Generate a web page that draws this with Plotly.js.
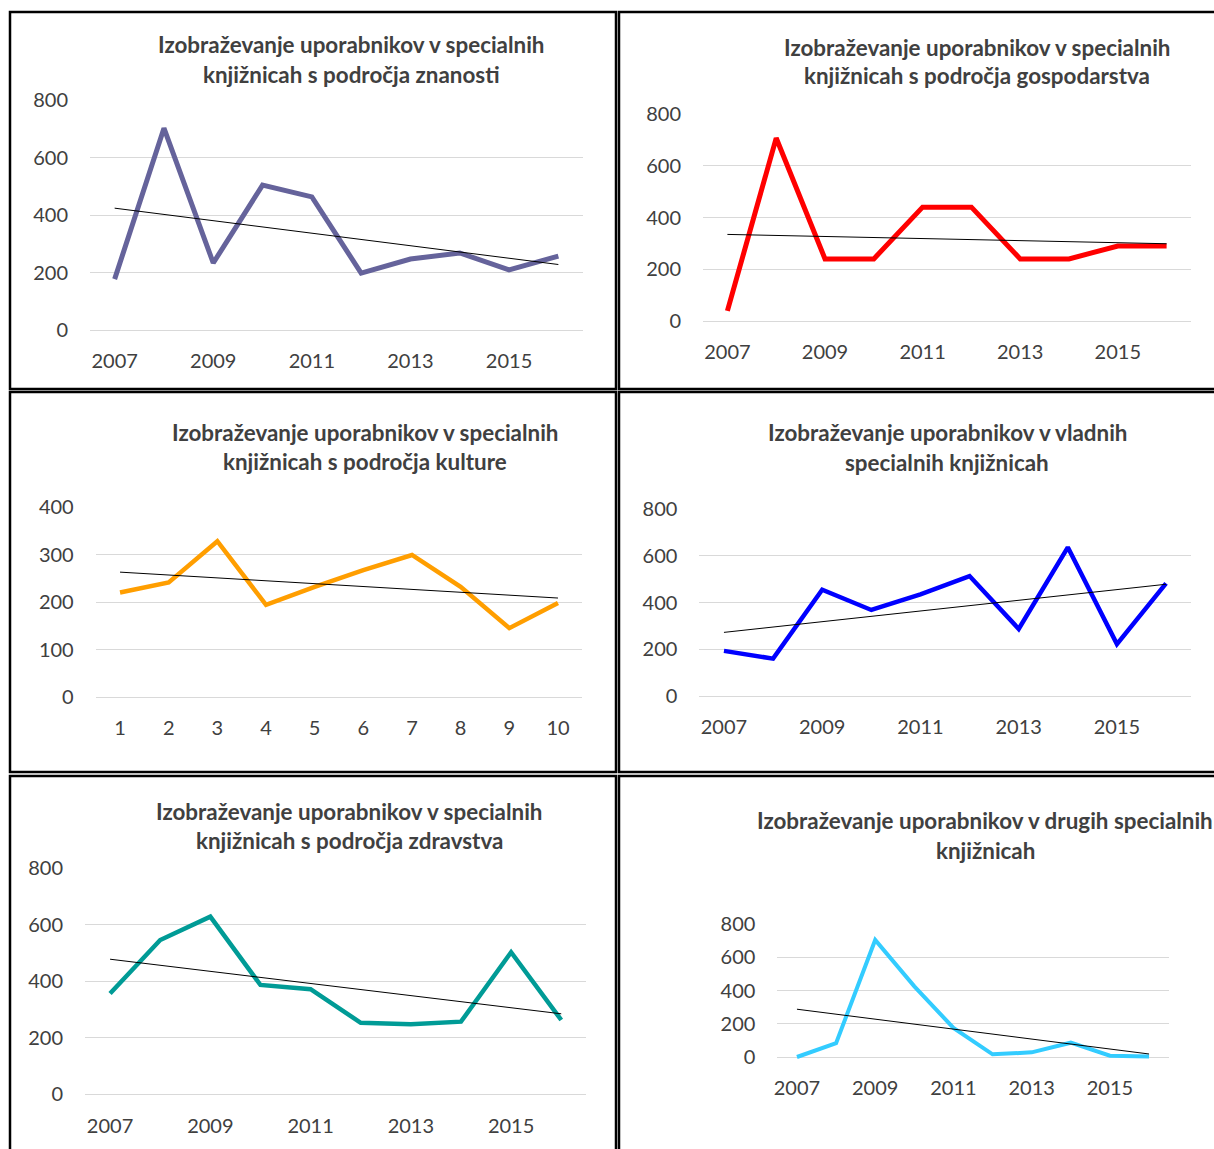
<!DOCTYPE html>
<html>
<head>
<meta charset="utf-8">
<script src="https://cdn.plot.ly/plotly-3.0.1.min.js"></script>
<style>
  html, body { margin: 0; padding: 0; background: #ffffff; }
  #chart { width: 1214px; height: 1149px; }
</style>
</head>
<body>
<div id="chart"></div>
<script>
// ---------------- DATA ----------------
const years = [2007, 2008, 2009, 2010, 2011, 2012, 2013, 2014, 2015, 2016];
const yearTicks = [2007, 2009, 2011, 2013, 2015];
const kulturaX = [1, 2, 3, 4, 5, 6, 7, 8, 9, 10];

const znanost      = [177, 702, 233, 504, 463, 198, 247, 268, 209, 257];
const gospodarstvo = [39, 707, 240, 240, 440, 440, 240, 240, 290, 290];
const kultura      = [220, 241, 328, 194, 232, 267, 299, 232, 145, 198];
const vladne       = [193, 160, 455, 368, 435, 513, 287, 636, 222, 482];
const zdravstvo    = [356, 545, 628, 386, 371, 252, 247, 256, 502, 262];
const druge        = [0, 83, 704, 425, 175, 16, 28, 86, 8, 3];

const titleZnanost      = ["Izobraževanje uporabnikov v specialnih", "knjižnicah s področja znanosti"];
const titleGospodarstvo = ["Izobraževanje uporabnikov v specialnih", "knjižnicah s področja gospodarstva"];
const titleKultura      = ["Izobraževanje uporabnikov v specialnih", "knjižnicah s področja kulture"];
const titleVladne       = ["Izobraževanje uporabnikov v vladnih", "specialnih knjižnicah"];
const titleZdravstvo    = ["Izobraževanje uporabnikov v specialnih", "knjižnicah s področja zdravstva"];
const titleDruge        = ["Izobraževanje uporabnikov v drugih specialnih", "knjižnicah"];

// ---------------- LAYOUT / STYLE ----------------
const W = 1214, H = 1149;
const FONT = "Lato, 'Open Sans', sans-serif";
const TEXT = "#404040";

function linFit(xs, ys) {
  const n = xs.length;
  const mx = xs.reduce((a, b) => a + b, 0) / n;
  const my = ys.reduce((a, b) => a + b, 0) / n;
  let sxy = 0, sxx = 0;
  for (let i = 0; i < n; i++) { sxy += (xs[i] - mx) * (ys[i] - my); sxx += (xs[i] - mx) ** 2; }
  const b = sxy / sxx, a = my - b * mx;
  return [a + b * xs[0], a + b * xs[n - 1]];
}

const panels = [
  { x: years, y: znanost, ticks: yearTicks, title: titleZnanost, color: "#65639B", width: 5,
    px: [90, 583], top: 100, zero: 330, ymax: 800, dtick: 200, tc: [351, 45, 74], box: [10, 12, 616, 389], xs: 17 },
  { x: years, y: gospodarstvo, ticks: yearTicks, title: titleGospodarstvo, color: "#FF0000", width: 5,
    px: [703, 1191], top: 114, zero: 321, ymax: 800, dtick: 200, tc: [977, 47, 76], box: [619, 12, 1220, 389], xs: 17 },
  { x: kulturaX, y: kultura, ticks: kulturaX, title: titleKultura, color: "#FF9E00", width: 4.5,
    px: [95.7, 582.3], top: 507, zero: 697, ymax: 400, dtick: 100, tc: [365, 432, 461], box: [10, 392, 616, 772], xs: 17 },
  { x: years, y: vladne, ticks: yearTicks, title: titleVladne, color: "#0000FF", width: 4.5,
    px: [699.4, 1190.6], top: 509, zero: 696, ymax: 800, dtick: 200, tc: [947, 432, 462], box: [619, 392, 1220, 772], xs: 17 },
  { x: years, y: zdravstvo, ticks: yearTicks, title: titleZdravstvo, color: "#009B96", width: 4.5,
    px: [85, 586.3], top: 868, zero: 1094, ymax: 800, dtick: 200, tc: [349, 811, 840], box: [10, 776, 616, 1160], xs: 18 },
  { x: years, y: druge, ticks: yearTicks, title: titleDruge, color: "#33CCFF", width: 4,
    px: [777.4, 1168.6], top: 924, zero: 1057, ymax: 800, dtick: 200, tc: [985, 820, 850], box: [619, 776, 1220, 1160], xs: 17 }
];

const traces = [];
const layout = {
  width: W, height: H,
  margin: { l: 0, r: 0, t: 0, b: 0 },
  paper_bgcolor: "#ffffff", plot_bgcolor: "rgba(0,0,0,0)",
  showlegend: false,
  font: { family: FONT, color: TEXT, size: 20 },
  annotations: [], shapes: []
};

const PAD = 6;
panels.forEach((p, i) => {
  const k = i === 0 ? "" : String(i + 1);
  const xa = "x" + k, ya = "y" + k;
  const upp = p.ymax / (p.zero - p.top);
  const x0 = p.x[0] - 0.5 * (p.x[1] - p.x[0]);
  const x1 = p.x[p.x.length - 1] + 0.5 * (p.x[1] - p.x[0]);

  traces.push({
    x: p.x, y: p.y, xaxis: xa, yaxis: ya, type: "scatter", mode: "lines",
    line: { color: p.color, width: p.width }, hoverinfo: "skip"
  });
  const fit = linFit(p.x, p.y);
  traces.push({
    x: [p.x[0], p.x[p.x.length - 1]], y: fit, xaxis: xa, yaxis: ya, type: "scatter", mode: "lines",
    line: { color: "#000000", width: 1 }, hoverinfo: "skip"
  });

  layout["xaxis" + k] = {
    domain: [p.px[0] / W, p.px[1] / W], anchor: ya, range: [x0, x1],
    tickmode: "array", tickvals: p.ticks, ticktext: p.ticks.map(String),
    showgrid: false, zeroline: false, showline: false, ticks: "",
    ticklabelstandoff: p.xs - PAD, tickfont: { family: FONT, size: 20, color: TEXT }, fixedrange: true
  };
  layout["yaxis" + k] = {
    domain: [1 - (p.zero + PAD) / H, 1 - p.top / H], anchor: xa,
    range: [-PAD * upp, p.ymax], tickmode: "linear", tick0: 0, dtick: p.dtick,
    showgrid: true, gridcolor: "#d9d9d9", gridwidth: 1, zeroline: false, showline: false, ticks: "",
    ticklabelstandoff: 21, tickfont: { family: FONT, size: 20, color: TEXT }, fixedrange: true
  };

  p.title.forEach((line, j) => {
    layout.annotations.push({
      text: line, xref: "paper", yref: "paper",
      x: p.tc[0] / W, y: 1 - p.tc[1 + j] / H, xanchor: "center", yanchor: "middle",
      showarrow: false, font: { family: FONT, size: 22.4, color: TEXT, weight: 700 }
    });
  });

  layout.shapes.push({
    type: "rect", xref: "paper", yref: "paper",
    x0: p.box[0] / W, x1: p.box[2] / W, y0: 1 - p.box[3] / H, y1: 1 - p.box[1] / H,
    line: { color: "#000000", width: 2.5 }, fillcolor: "rgba(0,0,0,0)", layer: "above"
  });
});

Plotly.newPlot("chart", traces, layout, { staticPlot: true, displayModeBar: false });
</script>
</body>
</html>
